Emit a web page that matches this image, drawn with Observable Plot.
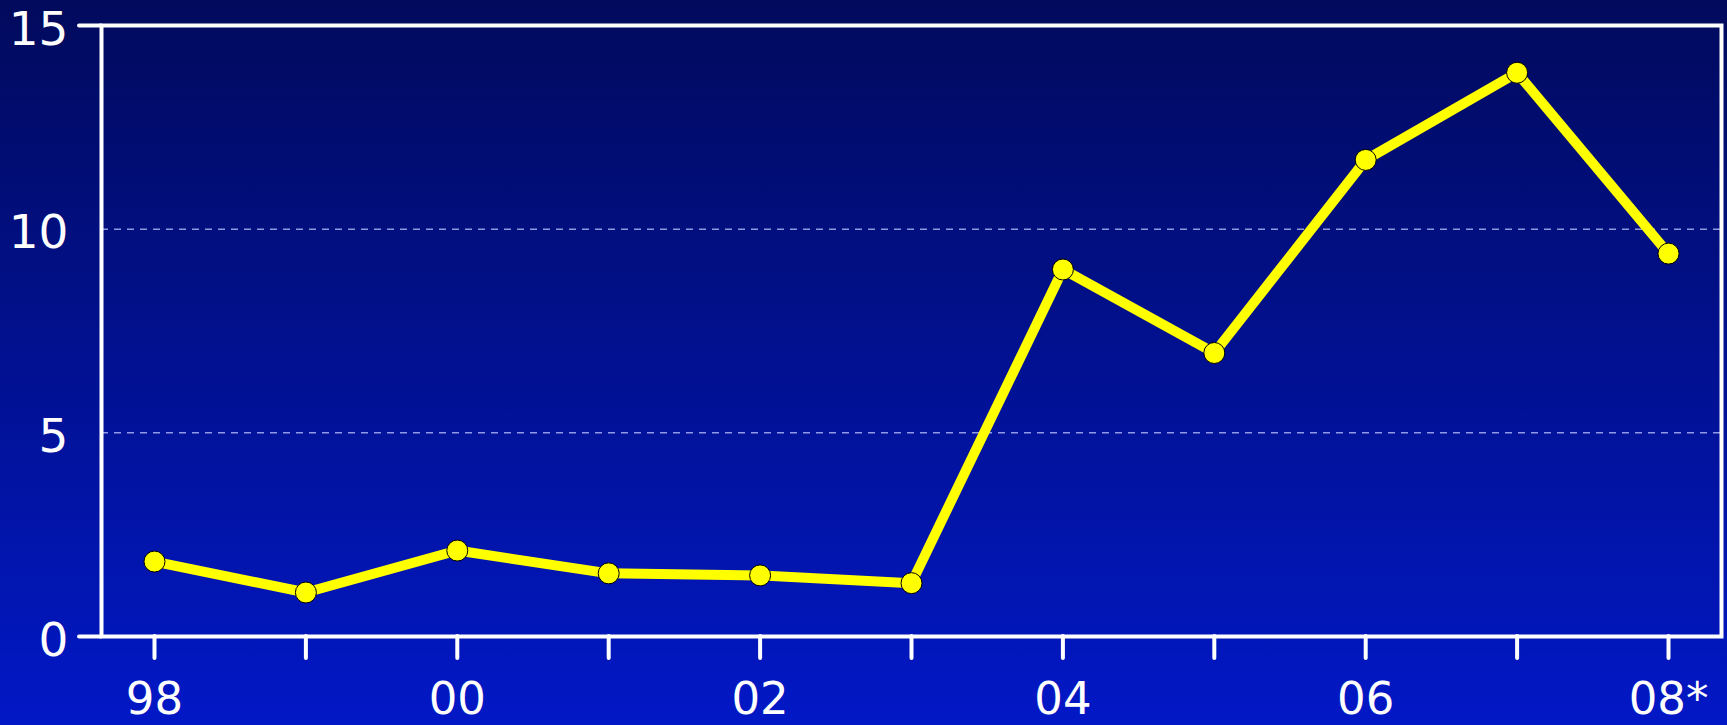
<!DOCTYPE html>
<html>
<head>
<meta charset="utf-8">
<script src="https://cdn.jsdelivr.net/npm/d3@7"></script>
<script src="https://cdn.jsdelivr.net/npm/@observablehq/plot@0.6"></script>
<style>
  html, body { margin: 0; padding: 0; }
  body { width: 1727px; height: 725px; overflow: hidden; background: linear-gradient(#010a5c, #0218c6); }
  #chart svg { display: block; background: transparent; }
</style>
</head>
<body>
<div id="chart"></div>
<script>
// Yearly series, 1998–2008 (2008 marked with an asterisk)
const years = [1998, 1999, 2000, 2001, 2002, 2003, 2004, 2005, 2006, 2007, 2008];
const values = [1.84, 1.08, 2.11, 1.55, 1.50, 1.31, 9.01, 6.96, 11.70, 13.84, 9.40];
const yearLabels = ["98", "", "00", "", "02", "", "04", "", "06", "", "08*"];
const yTicks = [0, 5, 10, 15];
const yGrid = [5, 10];
const yEdgeTicks = [0, 15];

const data = years.map((year, i) => ({year, value: values[i]}));
const labelOf = new Map(years.map((y, i) => [y, yearLabels[i]]));

const chart = Plot.plot({
  width: 1727,
  height: 725,
  marginTop: 25,
  marginLeft: 101,
  marginRight: 6,
  marginBottom: 89,
  style: {fontFamily: "DejaVu Sans", fontSize: "47px", color: "white", background: "transparent"},
  x: {type: "linear", domain: [1997.65, 2008.35]},
  y: {domain: [0, 15]},
  marks: [
    Plot.gridY(yGrid, {stroke: "#c0c8ff", strokeOpacity: 0.75, strokeWidth: 1.5, strokeDasharray: "7,6"}),
    Plot.axisX(years, {
      tickSize: 22, tickPadding: 24, strokeWidth: 4, strokeLinecap: "round", fontSize: 45,
      tickFormat: (d) => labelOf.get(d), label: null
    }),
    Plot.axisY(yEdgeTicks, {tickSize: 22, strokeWidth: 4, strokeLinecap: "round", tickFormat: () => "", label: null}),
    Plot.axisY(yTicks, {tickSize: 0, tickPadding: 33, dy: 4, label: null}),
    Plot.frame({stroke: "white", strokeWidth: 4}),
    Plot.line(data, {x: "year", y: "value", stroke: "#ffff00", strokeWidth: 10}),
    Plot.dot(data, {x: "year", y: "value", r: 10.5, fill: "#ffff00", stroke: "black", strokeWidth: 1})
  ]
});
document.getElementById("chart").append(chart);
</script>
</body>
</html>
